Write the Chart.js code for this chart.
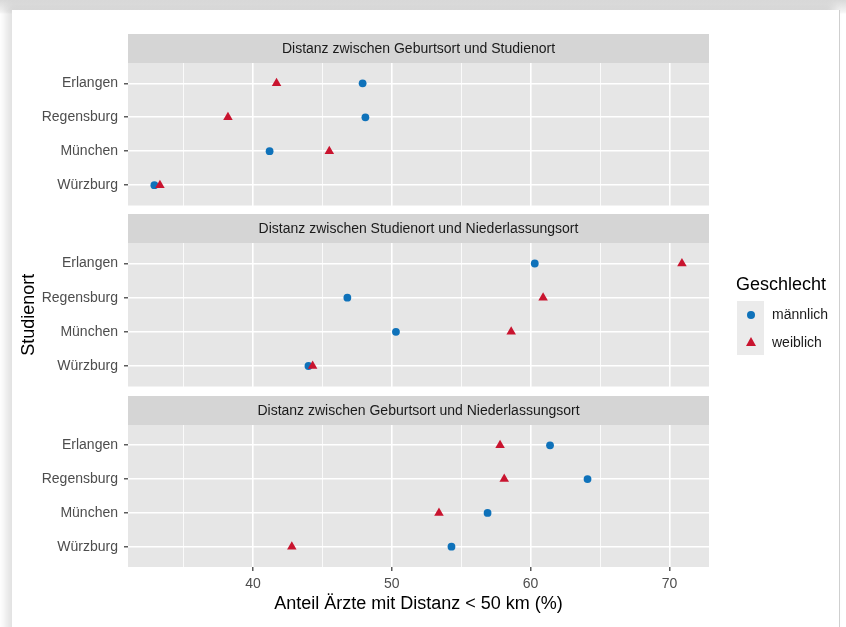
<!DOCTYPE html>
<html>
<head>
<meta charset="utf-8">
<script src="https://cdn.jsdelivr.net/npm/chart.js@4"></script>
<style>
  body { margin: 0; width: 846px; height: 627px; overflow: hidden; background: #fff; font-family: "Liberation Sans", Arial, sans-serif; }
  #wrap { position: relative; width: 846px; height: 627px; overflow: hidden; background: linear-gradient(#d9d9d9, #f4f4f4 12px, #fff 14px); }
  #card { position: absolute; left: 12px; top: 10px; width: 827px; height: 640px; background: #fff; border-right: 1px solid #cfcfcf; box-shadow: -6px -4px 8px rgba(0,0,0,0.12); }
  canvas { position: absolute; left: 0; }
  #legend-title { position: absolute; left: 736px; top: 274px; font-size: 18px; color: #000; }
  .key { position: absolute; left: 737px; width: 27px; height: 27px; background: #ebebeb; }
  .dot { position: absolute; left: 9.5px; top: 9.5px; width: 8px; height: 8px; border-radius: 50%; background: #0f72ba; }
  .tri { position: absolute; left: 8.5px; top: 8.5px; width: 0; height: 0; border-left: 5px solid transparent; border-right: 5px solid transparent; border-bottom: 9px solid #c9142f; }
  .lab { position: absolute; left: 772px; font-size: 14px; color: #1a1a1a; }
</style>
</head>
<body>
<div id="wrap">
  <div id="card"></div>
  <canvas id="panel1" width="846" height="177" style="top:34px"></canvas>
  <canvas id="panel2" width="846" height="178" style="top:214px"></canvas>
  <canvas id="panel3" width="846" height="221" style="top:396px"></canvas>
  <div id="legend-title">Geschlecht</div>
  <div class="key" style="top:301px"><div class="dot"></div></div>
  <div class="key" style="top:328px"><div class="tri"></div></div>
  <div class="lab" style="top:306px">männlich</div>
  <div class="lab" style="top:334px">weiblich</div>
</div>
<script>
// Studienorte von oben nach unten
const studienorte = ["Erlangen", "Regensburg", "München", "Würzburg"];
const panelTitles = [
    "Distanz zwischen Geburtsort und Studienort",
    "Distanz zwischen Studienort und Niederlassungsort",
    "Distanz zwischen Geburtsort und Niederlassungsort"
];
// Anteil Ärzte mit Distanz < 50 km (%), Reihenfolge wie studienorte
const maennlichGeburtStudium = [47.9, 48.1, 41.2, 32.9];
const weiblichGeburtStudium = [41.7, 38.2, 45.5, 33.3];
const maennlichStudiumNiederlassung = [60.3, 46.8, 50.3, 44.0];
const weiblichStudiumNiederlassung = [70.9, 60.9, 58.6, 44.3];
const maennlichGeburtNiederlassung = [61.4, 64.1, 56.9, 54.3];
const weiblichGeburtNiederlassung = [57.8, 58.1, 53.4, 42.8];
const xTicks = [35, 40, 45, 50, 55, 60, 65, 70];
const xMajor = [40, 50, 60, 70];

const blue = "#0f72ba";
const red = "#c9142f";
const panelBg = "#e6e6e6";
const stripBg = "#d5d5d5";

Chart.defaults.font.family = "'Liberation Sans', Arial, sans-serif";
Chart.defaults.animation = false;

// Panel-Hintergrund und Streifen mit Titel
const stripPlugin = {
    id: "strip",
    beforeDraw(chart, args, opts) {
        const { ctx, chartArea } = chart;
        ctx.save();
        ctx.fillStyle = panelBg;
        ctx.fillRect(chartArea.left, chartArea.top, chartArea.right - chartArea.left, chartArea.bottom - chartArea.top);
        ctx.fillStyle = stripBg;
        ctx.fillRect(chartArea.left, chartArea.top - 29, chartArea.right - chartArea.left, 29);
        ctx.fillStyle = "#1a1a1a";
        ctx.font = "14px 'Liberation Sans', Arial, sans-serif";
        ctx.textAlign = "center";
        ctx.textBaseline = "middle";
        ctx.fillText(opts.text, (chartArea.left + chartArea.right) / 2, chartArea.top - 14);
        ctx.restore();
    }
};

const toPoints = (values) => values.map((v, i) => ({ x: v, y: studienorte.length - 1 - i }));

function makePanel(id, title, male, female, isBottom, showYTitle) {
    return new Chart(document.getElementById(id), {
        type: "scatter",
        data: {
            datasets: [
                {
                    label: "weiblich",
                    data: toPoints(female),
                    pointStyle: "triangle",
                    pointRadius: 5.5,
                    backgroundColor: red,
                    borderColor: red,
                    borderWidth: 0,
                    order: 0
                },
                {
                    label: "männlich",
                    data: toPoints(male),
                    pointStyle: "circle",
                    pointRadius: 3.9,
                    backgroundColor: blue,
                    borderColor: blue,
                    borderWidth: 0,
                    order: 1
                }
            ]
        },
        options: {
            responsive: false,
            layout: { padding: { top: 29, right: 137, left: 0, bottom: 0 } },
            scales: {
                x: {
                    type: "linear",
                    min: 31.0,
                    max: 72.85,
                    afterBuildTicks: (scale) => { scale.ticks = xTicks.map(v => ({ value: v })); },
                    afterFit: (scale) => { scale.height = isBottom ? 50 : 0; },
                    border: { display: false },
                    grid: {
                        color: "#ffffff",
                        lineWidth: (c) => (c.tick && xMajor.includes(c.tick.value)) ? 1.6 : 0.8,
                        drawTicks: isBottom,
                        tickLength: 4,
                        tickWidth: 1.2,
                        tickColor: (c) => (c.tick && xMajor.includes(c.tick.value)) ? "#333333" : "rgba(0,0,0,0)"
                    },
                    ticks: {
                        display: isBottom,
                        autoSkip: false,
                        maxRotation: 0,
                        padding: 5,
                        color: "#4d4d4d",
                        font: { size: 14 },
                        callback: (v) => xMajor.includes(v) ? String(v) : ""
                    },
                    title: {
                        display: isBottom,
                        text: "Anteil Ärzte mit Distanz < 50 km (%)",
                        color: "#000000",
                        font: { size: 18 },
                        padding: { top: 0, bottom: 2 }
                    }
                },
                y: {
                    type: "linear",
                    min: -0.6,
                    max: 3.6,
                    afterBuildTicks: (scale) => { scale.ticks = [0, 1, 2, 3].map(v => ({ value: v })); },
                    afterFit: (scale) => {
                        scale.width = 128;
                        scale.paddingTop = 0;
                        scale.paddingBottom = 0;
                    },
                    border: { display: false },
                    grid: {
                        color: "#ffffff",
                        lineWidth: 1.6,
                        tickLength: 4,
                        tickWidth: 1.2,
                        tickColor: "#333333"
                    },
                    ticks: {
                        autoSkip: false,
                        padding: 6,
                        color: "#4d4d4d",
                        font: { size: 14 },
                        callback: (v) => studienorte[studienorte.length - 1 - v]
                    },
                    title: {
                        display: showYTitle,
                        text: "Studienort",
                        color: "#000000",
                        font: { size: 18 },
                        padding: { top: 18, bottom: 0 }
                    }
                }
            },
            plugins: {
                legend: { display: false },
                tooltip: { enabled: false },
                strip: { text: title }
            }
        },
        plugins: [stripPlugin]
    });
}

makePanel("panel1", panelTitles[0], maennlichGeburtStudium, weiblichGeburtStudium, false, false);
makePanel("panel2", panelTitles[1], maennlichStudiumNiederlassung, weiblichStudiumNiederlassung, false, true);
makePanel("panel3", panelTitles[2], maennlichGeburtNiederlassung, weiblichGeburtNiederlassung, true, false);
</script>
</body>
</html>
